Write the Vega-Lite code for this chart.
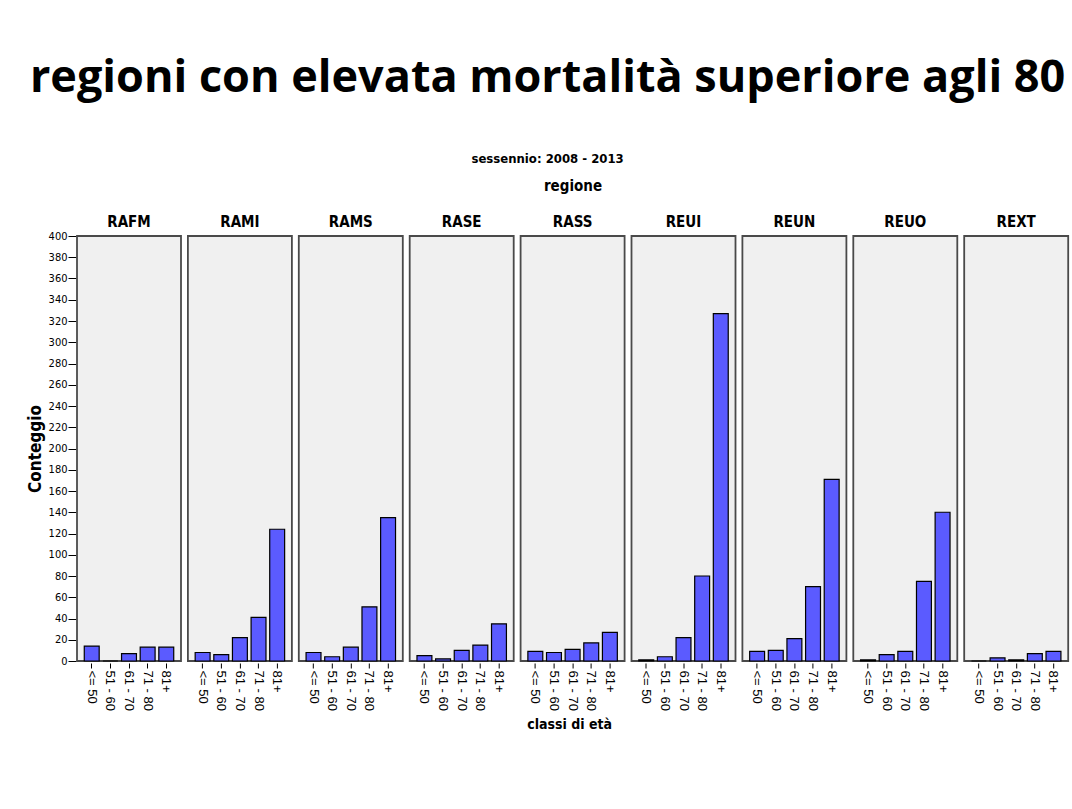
{
  "$schema": "https://vega.github.io/schema/vega-lite/v6.json",
  "background": "white",
  "padding": {"left": 26, "top": 56, "right": 0, "bottom": 10},
  "title": {
    "text": "regioni con elevata mortalità superiore agli 80",
    "subtitle": "sessennio: 2008 - 2013",
    "anchor": "middle",
    "frame": "bounds",
    "font": "Open Sans, Lato, sans-serif",
    "fontSize": 45,
    "fontWeight": "bold",
    "color": "black",
    "subtitleFont": "Liberation Sans Narrow, Arial Narrow, DejaVu Sans Condensed, sans-serif",
    "subtitleFontSize": 13,
    "subtitleFontWeight": "bold",
    "subtitleColor": "black",
    "subtitlePadding": 52,
    "offset": 13
  },
  "vconcat": [
    {
      "title": {
        "text": "classi di età",
        "orient": "bottom",
        "anchor": "middle",
        "frame": "bounds",
        "dx": 22,
        "font": "Liberation Sans Narrow, Arial Narrow, DejaVu Sans Condensed, sans-serif",
        "fontSize": 14,
        "fontWeight": "bold",
        "color": "black",
        "offset": 8
      },
      "data": {
        "values": [
          {"regione": "RAFM", "classe": "<= 50", "conteggio": 14},
          {"regione": "RAFM", "classe": "51 - 60", "conteggio": 0},
          {"regione": "RAFM", "classe": "61 - 70", "conteggio": 7},
          {"regione": "RAFM", "classe": "71 - 80", "conteggio": 13},
          {"regione": "RAFM", "classe": "81+", "conteggio": 13},
          {"regione": "RAMI", "classe": "<= 50", "conteggio": 8},
          {"regione": "RAMI", "classe": "51 - 60", "conteggio": 6},
          {"regione": "RAMI", "classe": "61 - 70", "conteggio": 22},
          {"regione": "RAMI", "classe": "71 - 80", "conteggio": 41},
          {"regione": "RAMI", "classe": "81+", "conteggio": 124},
          {"regione": "RAMS", "classe": "<= 50", "conteggio": 8},
          {"regione": "RAMS", "classe": "51 - 60", "conteggio": 4},
          {"regione": "RAMS", "classe": "61 - 70", "conteggio": 13},
          {"regione": "RAMS", "classe": "71 - 80", "conteggio": 51},
          {"regione": "RAMS", "classe": "81+", "conteggio": 135},
          {"regione": "RASE", "classe": "<= 50", "conteggio": 5},
          {"regione": "RASE", "classe": "51 - 60", "conteggio": 2},
          {"regione": "RASE", "classe": "61 - 70", "conteggio": 10},
          {"regione": "RASE", "classe": "71 - 80", "conteggio": 15},
          {"regione": "RASE", "classe": "81+", "conteggio": 35},
          {"regione": "RASS", "classe": "<= 50", "conteggio": 9},
          {"regione": "RASS", "classe": "51 - 60", "conteggio": 8},
          {"regione": "RASS", "classe": "61 - 70", "conteggio": 11},
          {"regione": "RASS", "classe": "71 - 80", "conteggio": 17},
          {"regione": "RASS", "classe": "81+", "conteggio": 27},
          {"regione": "REUI", "classe": "<= 50", "conteggio": 1},
          {"regione": "REUI", "classe": "51 - 60", "conteggio": 4},
          {"regione": "REUI", "classe": "61 - 70", "conteggio": 22},
          {"regione": "REUI", "classe": "71 - 80", "conteggio": 80},
          {"regione": "REUI", "classe": "81+", "conteggio": 327},
          {"regione": "REUN", "classe": "<= 50", "conteggio": 9},
          {"regione": "REUN", "classe": "51 - 60", "conteggio": 10},
          {"regione": "REUN", "classe": "61 - 70", "conteggio": 21},
          {"regione": "REUN", "classe": "71 - 80", "conteggio": 70},
          {"regione": "REUN", "classe": "81+", "conteggio": 171},
          {"regione": "REUO", "classe": "<= 50", "conteggio": 1},
          {"regione": "REUO", "classe": "51 - 60", "conteggio": 6},
          {"regione": "REUO", "classe": "61 - 70", "conteggio": 9},
          {"regione": "REUO", "classe": "71 - 80", "conteggio": 75},
          {"regione": "REUO", "classe": "81+", "conteggio": 140},
          {"regione": "REXT", "classe": "<= 50", "conteggio": 0},
          {"regione": "REXT", "classe": "51 - 60", "conteggio": 3},
          {"regione": "REXT", "classe": "61 - 70", "conteggio": 1},
          {"regione": "REXT", "classe": "71 - 80", "conteggio": 7},
          {"regione": "REXT", "classe": "81+", "conteggio": 9}
        ]
      },
      "facet": {
        "column": {
          "field": "regione",
          "type": "nominal",
          "header": {
            "title": "regione",
            "titleFont": "Liberation Sans Narrow, Arial Narrow, DejaVu Sans Condensed, sans-serif",
            "titleFontSize": 15,
            "titleFontWeight": "bold",
            "titleColor": "black",
            "titlePadding": 11,
            "labelFont": "Liberation Sans Narrow, Arial Narrow, DejaVu Sans Condensed, sans-serif",
            "labelFontSize": 15,
            "labelFontWeight": "bold",
            "labelColor": "black",
            "labelPadding": 5
          }
        }
      },
      "spacing": 4.9,
      "spec": {
        "width": 104,
        "height": 425,
        "mark": {"type": "bar", "fill": "#5b5bff", "stroke": "black", "strokeWidth": 1.2},
        "encoding": {
          "x": {
            "field": "classe",
            "type": "nominal",
            "sort": ["<= 50", "51 - 60", "61 - 70", "71 - 80", "81+"],
            "scale": {"paddingInner": 0.2, "paddingOuter": 0.39},
            "axis": {
              "title": null,
              "labelAngle": 90,
              "labelAlign": "left",
              "labelBaseline": "middle",
              "labelFont": "Liberation Sans, Arial, sans-serif",
              "labelFontSize": 13,
              "tickSize": 5,
              "labelPadding": 2
            }
          },
          "y": {
            "field": "conteggio",
            "type": "quantitative",
            "scale": {"domain": [0, 400], "nice": false},
            "axis": {
              "title": "Conteggio",
              "values": [0, 20, 40, 60, 80, 100, 120, 140, 160, 180, 200, 220, 240, 260, 280, 300, 320, 340, 360, 380, 400],
              "labelFont": "Liberation Sans Narrow, Arial Narrow, DejaVu Sans Condensed, sans-serif",
              "labelFontSize": 11,
              "tickSize": 8,
              "labelPadding": 1,
              "titlePadding": 4,
              "titleFontSize": 17
            }
          }
        }
      }
    }
  ],
  "config": {
    "view": {"fill": "#f0f0f0", "stroke": "#4a4a4a", "strokeWidth": 1.8},
    "axis": {
      "domain": false,
      "grid": false,
      "tickColor": "black",
      "labelColor": "black",
      "titleColor": "black",
      "titleFont": "Liberation Sans Narrow, Arial Narrow, DejaVu Sans Condensed, sans-serif",
      "titleFontSize": 16,
      "titleFontWeight": "bold"
    }
  }
}
